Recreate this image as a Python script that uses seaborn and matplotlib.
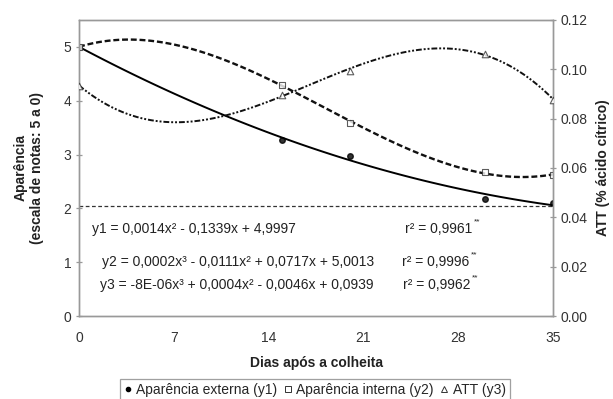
import matplotlib
matplotlib.use("Agg")
import matplotlib.pyplot as plt
import seaborn as sns
from matplotlib.lines import Line2D

sns.set_style("white")
plt.rcParams["font.family"] = ["Liberation Sans", "DejaVu Sans"]

# days after harvest
days = [0, 15, 20, 30, 35]
# external appearance (y1), internal appearance (y2) -> left axis
aparencia_externa = [5.0, 3.27, 2.98, 2.18, 2.10]
aparencia_interna = [5.0, 4.30, 3.59, 2.67, 2.62]
# titratable acidity (y3) -> right axis
att = [0.0934, 0.0897, 0.0994, 0.1063, 0.0877]
ref_line = 2.05

equations = [
    ("y1 = 0,0014x² - 0,1339x + 4,9997", "r² = 0,9961"),
    ("y2 = 0,0002x³ - 0,0111x² + 0,0717x + 5,0013", "r² = 0,9996"),
    ("y3 = -8E-06x³ + 0,0004x² - 0,0046x + 0,0939", "r² = 0,9962"),
]
eq_pos = [(0.95, 1.61, 24.1), (1.7, 1.0, 23.85), (1.55, 0.57, 23.9)]

fig = plt.figure(figsize=(6.13, 3.99), dpi=100)
ax = fig.add_axes([0.129, 0.208, 0.773, 0.742])
ax2 = ax.twinx()

mk = "#333333"
sns.regplot(x=days, y=aparencia_externa, order=2, ci=None, ax=ax, marker="o",
            scatter_kws=dict(s=16, color="black", zorder=3),
            line_kws=dict(color="black", lw=1.4))
sns.regplot(x=days, y=aparencia_interna, order=3, ci=None, ax=ax, marker="s",
            scatter_kws=dict(s=20, facecolors="white", edgecolors=mk, linewidths=0.8, zorder=3),
            line_kws=dict(color="#111111", lw=1.7, ls=(0, (2.5, 1.2))))
sns.regplot(x=days, y=att, order=3, ci=None, ax=ax2, marker="^",
            scatter_kws=dict(s=22, facecolors="white", edgecolors=mk, linewidths=0.8, zorder=3),
            line_kws=dict(color="#111111", lw=1.4, ls=(0, (3, 1, 1, 1, 1, 1))))
ax.axhline(ref_line, color="#333333", lw=0.9, ls=(0, (3, 2)))

ax.set_xlim(0, 35)
ax.set_ylim(0, 5.5)
ax2.set_ylim(0, 0.12)
ax.set_xticks([0, 7, 14, 21, 28, 35])
ax.set_yticks([0, 1, 2, 3, 4, 5])
ax2.set_yticks([0, 0.02, 0.04, 0.06, 0.08, 0.10, 0.12])
ax2.set_yticklabels(["0.00", "0.02", "0.04", "0.06", "0.08", "0.10", "0.12"])

for a in (ax, ax2):
    for s in a.spines.values():
        s.set_color("#999999")
        s.set_linewidth(1.0)
    a.tick_params(colors="#999999", labelcolor="#333333", labelsize=10,
                  length=4, width=0.9, direction="inout")
ax.tick_params(axis="x", pad=9)

ax.set_xlabel("Dias após a colheita", fontsize=10, fontweight="bold", color="#222222", labelpad=8)
ax.set_ylabel("Aparência\n(escala de notas: 5 a 0)", fontsize=10, fontweight="bold",
              color="#222222", labelpad=14)
ax2.set_ylabel("ATT (% ácido cítrico)", fontsize=10, fontweight="bold", color="#222222", labelpad=6)

for (eq, r2), (xe, ye, xr) in zip(equations, eq_pos):
    ax.text(xe, ye, eq, fontsize=10, color="#222222", va="center")
    t = ax.text(xr, ye, r2, fontsize=10, color="#222222", va="center")
    # small superscript asterisks after the r² value
    ax.annotate("**", xy=(1, 1), xycoords=t, xytext=(1, 3), textcoords="offset points",
                fontsize=6, color="#222222", va="top", ha="left")

handles = [
    Line2D([], [], ls="none", marker="o", ms=3, color="black"),
    Line2D([], [], ls="none", marker="s", ms=4, mfc="white", mec=mk, mew=0.7),
    Line2D([], [], ls="none", marker="^", ms=4, mfc="white", mec=mk, mew=0.7),
]
labels = ["Aparência externa (y1)", "Aparência interna (y2)", "ATT (y3)"]
leg = fig.legend(handles, labels, loc="lower center", bbox_to_anchor=(0.514, -0.005), ncol=3,
                 fontsize=10, frameon=True, fancybox=False, handlelength=0.5,
                 handletextpad=0.35, columnspacing=0.5, borderpad=0.3, borderaxespad=0)
leg.get_frame().set_edgecolor("#888888")
leg.get_frame().set_linewidth(0.9)

fig.savefig("out.png", dpi=100)
